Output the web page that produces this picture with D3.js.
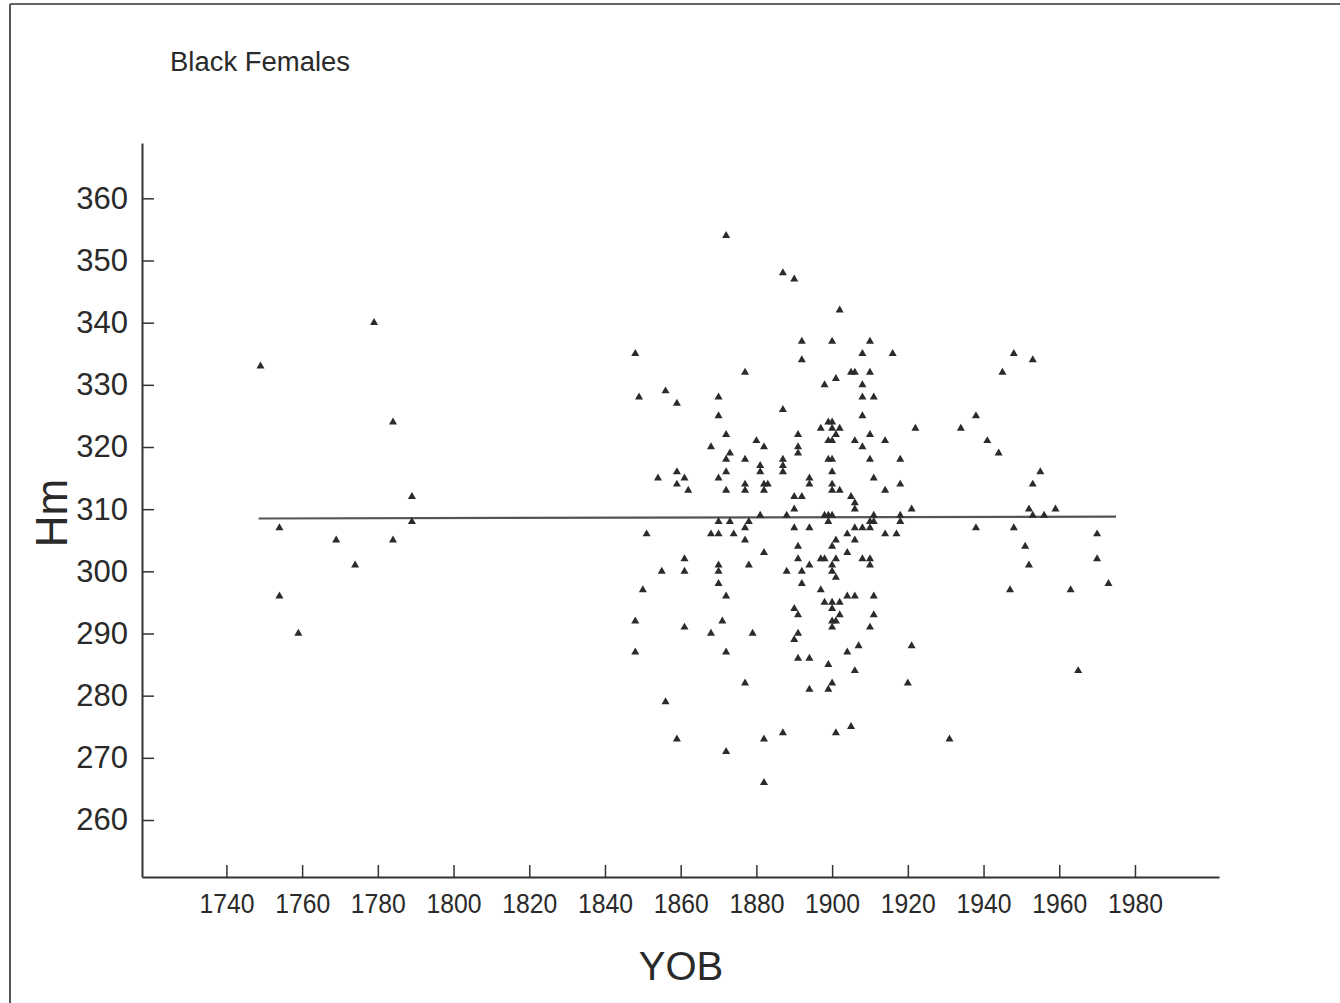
<!DOCTYPE html>
<html>
<head>
<meta charset="utf-8">
<script src="https://cdn.jsdelivr.net/npm/d3@7"></script>
<style>
  html, body { margin: 0; padding: 0; background: #fff; }
  svg { display: block; }
  text { font-family: "Liberation Sans", Arial, sans-serif; fill: #2a2a2a; }
</style>
</head>
<body>
<svg id="chart" width="1340" height="1003"></svg>
<script>
// Year of birth (YOB) vs Hm, black females — [YOB, Hm]
const earlyCohort = [
  [1749,333],[1754,307],[1754,296],[1759,290],[1769,305],[1774,301],
  [1779,340],[1784,324],[1784,305],[1789,312],[1789,308]
];

const midCohortA = [
  [1872,354],[1887,348],[1890,347],
  [1848,335],[1849,328],[1856,329],[1859,327],[1877,332],[1870,328],[1870,325],[1887,326],
  [1872,322],[1868,320],[1873,319],[1872,318],[1880,321],[1882,320],[1877,318],[1881,317],[1881,316],
  [1887,318],[1887,317],[1887,316],[1891,322],[1891,320],[1891,319],
  [1854,315],[1859,316],[1861,315],[1859,314],[1862,313],[1870,315],[1872,316],[1872,313],[1877,314],[1877,313],
  [1882,314],[1883,314],[1882,313],[1890,312],[1890,310],[1888,309],[1881,309],
  [1870,308],[1873,308],[1878,308],[1877,307],[1890,307],
  [1851,306],[1868,306],[1870,306],[1874,306],[1877,305],[1882,303],[1891,304],[1891,302],[1861,302],
  [1855,300],[1861,300],[1870,301],[1870,300],[1878,301],[1888,300],[1870,298],[1850,297],[1872,296],
  [1890,294],[1891,293],[1848,292],[1861,291],[1871,292],[1868,290],[1879,290],[1890,289],[1891,290],
  [1848,287],[1872,287],[1891,286],[1877,282],[1856,279],[1859,273],[1872,271],[1882,273],[1887,274],[1882,266]
];

const midCohortB = [
  [1902,342],[1892,337],[1900,337],[1910,337],[1892,334],[1908,335],[1916,335],[1905,332],[1906,332],[1910,332],
  [1901,331],[1898,330],[1908,330],[1908,328],[1911,328],[1908,325],[1899,324],[1900,324],[1897,323],[1900,323],[1902,323],
  [1922,323],[1901,322],[1899,321],[1900,321],[1906,321],[1910,322],[1914,321],[1908,320],
  [1899,318],[1900,318],[1910,318],[1918,318],[1900,316],[1911,315],[1894,315],[1894,314],[1900,314],[1900,313],[1902,313],
  [1914,313],[1918,314],[1892,312],[1905,312],[1906,311],[1906,310],[1921,310],
  [1898,309],[1899,309],[1900,309],[1899,308],[1911,309],[1918,309],[1918,308],[1910,308],[1911,308],
  [1894,307],[1906,307],[1908,307],[1910,307],
  [1914,306],[1917,306],[1904,306],[1906,305],[1901,305],[1900,304],[1904,303],[1897,302],[1898,302],[1901,302],
  [1908,302],[1910,302],[1910,301],[1892,300],[1894,301],[1900,301],[1900,300],[1901,299],[1892,298],[1897,297],
  [1904,296],[1906,296],[1911,296],[1898,295],[1900,295],[1902,295],[1900,294],[1902,293],[1911,293],
  [1900,292],[1901,292],[1900,291],[1910,291],[1907,288],[1921,288],[1904,287],[1894,286],[1899,285],[1906,284],
  [1920,282],[1900,282],[1894,281],[1899,281],[1901,274],[1905,275],[1931,273]
];

const lateCohort = [
  [1948,335],[1953,334],[1945,332],[1938,325],[1934,323],[1941,321],[1944,319],[1955,316],[1953,314],
  [1952,310],[1953,309],[1956,309],[1959,310],[1938,307],[1948,307],[1970,306],[1951,304],[1952,301],[1970,302],
  [1973,298],[1947,297],[1963,297],[1965,284]
];

// Tick values
const xTicks = [1740,1760,1780,1800,1820,1840,1860,1880,1900,1920,1940,1960,1980];
const yTicks = [260,270,280,290,300,310,320,330,340,350,360];

// Fitted trend line: Hm = fitIntercept + fitSlope * (YOB - fitFrom)
const fitFrom = 1748.5, fitTo = 1975;
const fitIntercept = 308.5, fitSlope = 0.0013;

const titleText = "Black Females";
const xTitle = "YOB";
const yTitle = "Hm";

// ---------------------------------------------------------------
const svg = d3.select("#chart");
const axisColor = "#333";

const x = d3.scaleLinear().domain([1717.7, 2002.2]).range([142, 1219]);
const y = d3.scaleLinear().domain([250.83, 368.9]).range([877, 143]);

// page frame (top and left rules)
svg.append("line").attr("x1", 10).attr("x2", 1340).attr("y1", 4).attr("y2", 4)
  .attr("stroke", "#666").attr("stroke-width", 2);
svg.append("line").attr("x1", 10).attr("x2", 10).attr("y1", 4).attr("y2", 1003)
  .attr("stroke", "#555").attr("stroke-width", 2);

// x axis
const gx = svg.append("g").attr("transform", `translate(0,${y.range()[0]})`)
  .call(d3.axisBottom(x).tickValues(xTicks).tickFormat(d3.format("d"))
    .tickSizeInner(-12).tickSizeOuter(0).tickPadding(16));
gx.select(".domain").attr("stroke", axisColor).attr("stroke-width", 2);
gx.selectAll(".tick line").attr("stroke", axisColor).attr("stroke-width", 1.5);
gx.selectAll(".tick text")
  .attr("font-size", 28).attr("fill", "#2a2a2a")
  .attr("textLength", 55).attr("lengthAdjust", "spacingAndGlyphs");

// y axis
const gy = svg.append("g").attr("transform", `translate(${x.range()[0]},0)`)
  .call(d3.axisLeft(y).tickValues(yTicks).tickFormat(d3.format("d"))
    .tickSizeInner(-12).tickSizeOuter(0).tickPadding(14));
gy.select(".domain").attr("stroke", axisColor).attr("stroke-width", 2);
gy.selectAll(".tick line").attr("stroke", axisColor).attr("stroke-width", 1.5);
gy.selectAll(".tick text").attr("font-size", 31).attr("fill", "#2a2a2a");

// trend line
const fitPts = [fitFrom, fitTo].map(t => [t, fitIntercept + fitSlope * (t - fitFrom)]);
svg.append("path")
  .attr("d", d3.line().x(d => x(d[0])).y(d => y(d[1]))(fitPts))
  .attr("fill", "none").attr("stroke", "#555").attr("stroke-width", 2.2);

// points
const allPoints = [...earlyCohort, ...midCohortA, ...midCohortB, ...lateCohort];
const tri = d3.symbol().type(d3.symbolTriangle).size(28);
svg.append("g").selectAll("path")
  .data(allPoints)
  .join("path")
  .attr("d", tri)
  .attr("transform", d => `translate(${x(d[0])},${y(d[1])})`)
  .attr("fill", "#2b2b2b");

// titles
svg.append("text").attr("x", 170).attr("y", 71).attr("font-size", 27)
  .attr("textLength", 180).attr("lengthAdjust", "spacingAndGlyphs").text(titleText);
svg.append("text").attr("x", 681).attr("y", 980).attr("text-anchor", "middle")
  .attr("font-size", 40).text(xTitle);
svg.append("text")
  .attr("transform", "translate(67,513) rotate(-90)")
  .attr("text-anchor", "middle").attr("font-size", 44).text(yTitle);
</script>
</body>
</html>
